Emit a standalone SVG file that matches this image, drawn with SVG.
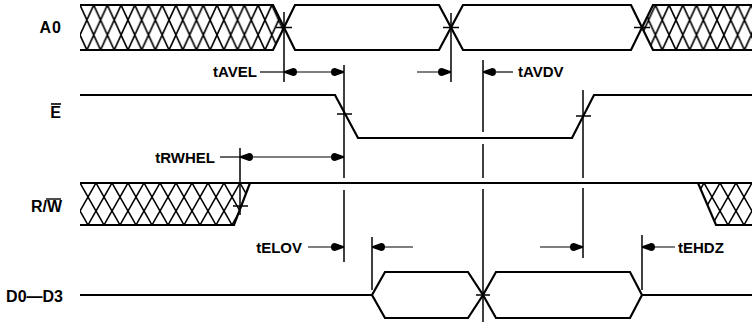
<svg xmlns="http://www.w3.org/2000/svg" width="752" height="322" viewBox="0 0 752 322">
<style>
.sig{fill:none;stroke:#000;stroke-width:2.2;stroke-linejoin:miter}
.hz{stroke:none}
.vl{stroke:#000;stroke-width:1.5;fill:none}
.tk{stroke:#000;stroke-width:1.5}
.ar{stroke:#000;stroke-width:1.2;fill:none}
.lbl{font-family:"Liberation Sans",Arial,Helvetica,sans-serif;font-weight:bold;font-size:15px;fill:#000}
.hl{stroke:#000;stroke-width:1.6;fill:none}
</style>
<defs>
<pattern id="hatchA" patternUnits="userSpaceOnUse" x="80" y="5" width="13.7" height="30">
<path class="hl" d="M-27.4,-30L13.7,60M-13.7,-30L27.4,60M0,-30L41.1,60M13.7,-30L-27.4,60M27.4,-30L-13.7,60M41.1,-30L0,60"/>
</pattern>
<pattern id="hatchR" patternUnits="userSpaceOnUse" x="80" y="183" width="16" height="28">
<path class="hl" d="M-32,-28L16,56M-16,-28L32,56M0,-28L48,56M16,-28L-32,56M32,-28L-16,56M48,-28L0,56"/>
</pattern>
<marker id="ah" viewBox="-14 -5 15 10" refX="0" refY="0" markerWidth="15" markerHeight="10" markerUnits="userSpaceOnUse" orient="auto-start-reverse">
<path d="M-13,0Q-13,-4 -9,-4L0,-0.7L0,0.7L-9,4Q-13,4 -13,0Z" fill="#000"/>
</marker>
</defs>
<rect width="752" height="322" fill="#fff"/>

<g id="sig-A0">
<text class="lbl" x="62" y="33" text-anchor="end" style="font-size:16px;letter-spacing:1px">A0</text>
<path class="hz" fill="url(#hatchA)" d="M80,5L273,5L284,27.5L273,50L80,50Z"/>
<path class="sig" d="M80,5L273,5L284,27.5L273,50L80,50"/>
<path class="sig" d="M284,27.5L295,5L439,5L451,27.5L439,50L295,50Z"/>
<path class="sig" d="M451,27.5L463,5L631,5L642,27.5L631,50L463,50Z"/>
<path class="hz" fill="url(#hatchA)" d="M642,27.5L653,5L752,5L752,50L653,50Z"/>
<path class="sig" d="M752,5L653,5L642,27.5L653,50L752,50"/>
<line class="tk" x1="276" y1="27.5" x2="292" y2="27.5"/>
<line class="tk" x1="443" y1="27.5" x2="459" y2="27.5"/>
<line class="tk" x1="634" y1="27.5" x2="650" y2="27.5"/>
</g>

<g id="sig-E">
<text class="lbl" x="61" y="118" text-anchor="end" style="font-size:16px">E</text>
<line x1="51" y1="104" x2="61" y2="104" stroke="#000" stroke-width="1.6"/>
<path class="sig" d="M80,95L335,95L358,138L572,138L594,95L752,95"/>
<line class="tk" x1="337" y1="114" x2="352" y2="114"/>
<line class="tk" x1="576" y1="116" x2="591" y2="116"/>
</g>

<g id="sig-RW">
<text class="lbl" x="62" y="212" text-anchor="end" style="font-size:16px">R/W</text>
<line x1="46" y1="199" x2="61" y2="199" stroke="#000" stroke-width="1.4"/>
<path class="hz" fill="url(#hatchR)" d="M80,183L250,183L234,225L80,225Z"/>
<path class="sig" d="M80,183L752,183"/>
<path class="sig" d="M250,183L234,225L80,225"/>
<path class="hz" fill="url(#hatchR)" d="M698,183L752,183L752,225L716,225Z"/>
<path class="sig" d="M698,183L716,225L752,225"/>
<line class="tk" x1="233" y1="206" x2="248" y2="206"/>
</g>

<g id="sig-D">
<text class="lbl" x="63" y="302" text-anchor="end" style="font-size:16px">D0—D3</text>
<path class="sig" d="M80,295L372,295"/>
<path class="sig" d="M372,295L385,272L468,272L483,295L468,318L385,318Z"/>
<path class="sig" d="M483,295L496,272L630,272L642,295L630,318L496,318Z"/>
<path class="sig" d="M642,295L752,295"/>
<line class="tk" x1="476" y1="295" x2="490" y2="295"/>
</g>

<g id="connectors">
<path class="vl" d="M284,12V82"/>
<path class="vl" d="M451,13V82"/>
<path class="vl" d="M344,65V178M344,190V262"/>
<path class="vl" d="M483,60V132M483,144V178M483,189V322"/>
<path class="vl" d="M583,90V178M583,188V258"/>
<path class="vl" d="M240,148V215"/>
<path class="vl" d="M372,237V290"/>
<path class="vl" d="M642,235V290"/>

<path class="ar" d="M260,72H284"/>
<path class="ar" d="M284,72H344" marker-start="url(#ah)" marker-end="url(#ah)"/>
<path class="ar" d="M417,72H451" marker-end="url(#ah)"/>
<path class="ar" d="M513,72H483" marker-end="url(#ah)"/>
<path class="ar" d="M220,157H240"/>
<path class="ar" d="M240,157H344" marker-start="url(#ah)" marker-end="url(#ah)"/>
<path class="ar" d="M308,247H344" marker-end="url(#ah)"/>
<path class="ar" d="M413,247H372" marker-end="url(#ah)"/>
<path class="ar" d="M540,247H583" marker-end="url(#ah)"/>
<path class="ar" d="M675,247H642" marker-end="url(#ah)"/>

<text class="lbl" x="257" y="77" text-anchor="end">tAVEL</text>
<text class="lbl" x="518" y="77">tAVDV</text>
<text class="lbl" x="215" y="163" text-anchor="end">tRWHEL</text>
<text class="lbl" x="302" y="253" text-anchor="end">tELOV</text>
<text class="lbl" x="678" y="253">tEHDZ</text>
</g>
</svg>
